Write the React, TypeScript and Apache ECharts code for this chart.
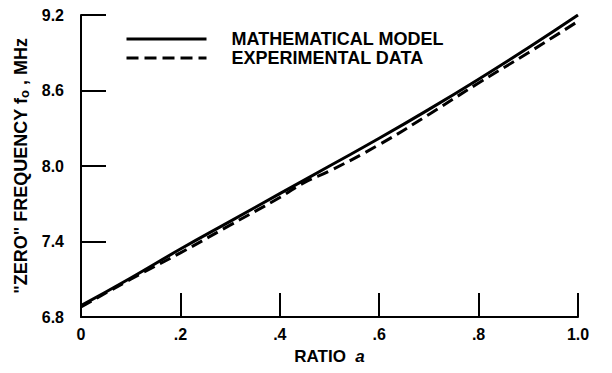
import React, { useEffect, useRef } from "react";
import * as echarts from "echarts";

const ratio = [0, 0.1, 0.2, 0.3, 0.4, 0.5, 0.6, 0.7, 0.8, 0.9, 1.0];
const modelValues = [6.89, 7.11, 7.34, 7.56, 7.78, 8.0, 8.22, 8.45, 8.69, 8.94, 9.2];
const expRatio = [0, 0.1, 0.2, 0.3, 0.4, 0.45, 0.5, 0.6, 0.7, 0.8, 0.9, 1.0];
const expValues = [6.88, 7.1, 7.31, 7.53, 7.75, 7.87, 7.96, 8.17, 8.41, 8.66, 8.9, 9.15];
const xTickLabels: Record<string, string> = { "0": "0", "0.2": ".2", "0.4": ".4", "0.6": ".6", "0.8": ".8", "1": "1.0" };
const seriesNames = ["MATHEMATICAL MODEL", "EXPERIMENTAL DATA"];

const FONT = "'Liberation Sans', Arial, sans-serif";

export default function App() {
  const ref = useRef<HTMLDivElement>(null);
  useEffect(() => {
    if (!ref.current) return;
    const chart = echarts.init(ref.current, null, { renderer: "svg" });
    chart.setOption({
      animation: false,
      backgroundColor: "#fff",
      textStyle: { fontFamily: FONT },
      grid: { left: 81, right: 34, top: 15, bottom: 56 },
      legend: {
        orient: "vertical",
        left: 120,
        top: 25,
        itemWidth: 80,
        itemHeight: 14,
        itemGap: 1,
        itemStyle: { opacity: 0 },
        lineStyle: { width: 3 },
        textStyle: { fontFamily: FONT, fontSize: 18, fontWeight: "bold", color: "#000", padding: [0, 0, 0, 20] },
        data: seriesNames.map((n) => ({ name: n })),
      },
      xAxis: {
        type: "value",
        min: 0,
        max: 1,
        interval: 0.2,
        name: "RATIO  {i|a}",
        nameLocation: "middle",
        nameGap: 31,
        nameTextStyle: {
          fontFamily: FONT, fontSize: 17, fontWeight: "bold", color: "#000",
          rich: { i: { fontFamily: FONT, fontSize: 17, fontWeight: "bold", fontStyle: "italic", color: "#000" } },
        },
        axisLine: { show: true, lineStyle: { color: "#000", width: 2 } },
        axisTick: { show: true, inside: true, length: 24, lineStyle: { color: "#000", width: 2 } },
        axisLabel: {
          margin: 9,
          fontFamily: FONT, fontSize: 16, fontWeight: "bold", color: "#000",
          formatter: (v: number) => xTickLabels[String(Math.round(v * 10) / 10)] ?? String(v),
        },
        splitLine: { show: false },
      },
      yAxis: {
        type: "value",
        min: 6.8,
        max: 9.2,
        interval: 0.6,
        name: "\"ZERO\" FREQUENCY f{sub|o} , MHz",
        nameLocation: "middle",
        nameRotate: 90,
        nameGap: 45,
        nameTextStyle: {
          fontFamily: FONT, fontSize: 18, fontWeight: "bold", color: "#000",
          rich: { sub: { fontFamily: FONT, fontSize: 13, fontWeight: "bold", color: "#000", verticalAlign: "bottom", padding: [7, 0, 0, 0] } },
        },
        axisLine: { show: true, lineStyle: { color: "#000", width: 2 } },
        axisTick: { show: true, inside: true, length: 25, lineStyle: { color: "#000", width: 2 } },
        axisLabel: {
          margin: 17,
          fontFamily: FONT, fontSize: 16, fontWeight: "bold", color: "#000",
          formatter: (v: number) => v.toFixed(1),
        },
        splitLine: { show: false },
      },
      series: [
        {
          name: seriesNames[0],
          type: "line",
          smooth: true,
          symbol: "none",
          lineStyle: { color: "#000", width: 3, type: "solid" },
          itemStyle: { color: "#000" },
          data: ratio.map((x, i) => [x, modelValues[i]]),
        },
        {
          name: seriesNames[1],
          type: "line",
          smooth: true,
          symbol: "none",
          lineStyle: { color: "#000", width: 3, type: [12, 6] },
          itemStyle: { color: "#000" },
          data: expRatio.map((x, i) => [x, expValues[i]]),
        },
      ],
    });
    return () => chart.dispose();
  }, []);
  return <div ref={ref} style={{ position: "fixed", left: 0, top: 0, width: 612, height: 373 }} />;
}
